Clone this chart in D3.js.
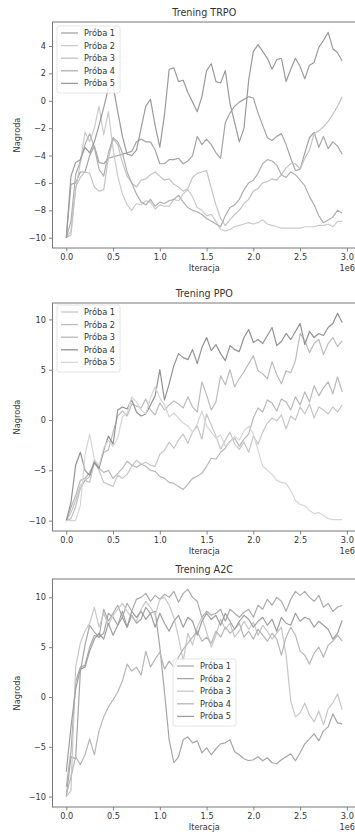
<!DOCTYPE html>
<html>
<head>
<meta charset="utf-8">
<script src="https://cdn.jsdelivr.net/npm/d3@7"></script>
<style>
  body { margin: 0; background: #fff; }
  text { font-family: "DejaVu Sans", sans-serif; fill: #333; }
</style>
</head>
<body>
<div id="chart"></div>
<script>
// values, one point every 0.05e6 iterations
const iterStep = 50000;
const seriesNames = ['Próba 1', 'Próba 2', 'Próba 3', 'Próba 4', 'Próba 5'];
const xTicks = [0, 500000, 1000000, 1500000, 2000000, 2500000, 3000000];

const trpo1 = [-10, -6.1, -6.0, -5.2, -5.2, -4.0, -3.3, -4.5, -4.6, -4.2, -4.1, -4.0, -3.9, -3.8, -3.7, -3.0, -2.8, -3.0, -3.0, -3.6,
  -4.6, -4.6, -4.3, -4.3, -4.2, -4.6, -4.4, -4.0, -2.6, -3.2, -2.8, -3.2, -3.8, -4.2, -1.6, -0.9, -0.4, -0.1, 0.1, 0.3,
  0.2, -0.9, -1.8, -2.7, -2.9, -2.6, -2.4, -3.2, -4.2, -5.1, -5.0, -3.8, -2.7, -2.3, -3.4, -2.6, -3.5, -3.0, -3.3, -3.9];
const trpo2 = [-10, -9.5, -6.5, -4.5, -2.3, -3.0, -2.0, -0.4, -2.5, -0.8, -3.5, -5.5, -6.8, -7.6, -8.0, -7.5, -7.6, -7.3, -7.4, -7.9,
  -7.6, -7.7, -7.7, -7.2, -7.3, -6.8, -6.5, -7.0, -7.8, -8.0, -8.4, -8.3, -8.8, -9.4, -9.5, -9.4, -9.2, -9.1, -9.0, -8.9,
  -9.0, -8.9, -8.7, -9.0, -9.1, -9.2, -9.3, -9.3, -9.3, -9.3, -9.3, -9.2, -9.2, -9.2, -9.1, -9.1, -9.0, -9.2, -8.8, -8.8];
const trpo3 = [-10, -9.8, -6.3, -5.6, -5.2, -5.3, -6.3, -6.6, -6.5, -4.2, -2.8, -3.2, -4.5, -5.5, -6.0, -6.3, -5.8, -5.7, -5.4, -5.2,
  -5.5, -5.8, -5.7, -6.1, -6.3, -6.6, -6.4, -5.6, -5.3, -5.2, -5.1, -6.4, -7.6, -8.6, -9.1, -8.7, -8.3, -8.0, -7.5, -7.2,
  -6.6, -6.4, -6.0, -5.9, -5.7, -5.8, -5.4, -4.9, -4.6, -4.6, -5.0, -4.2, -3.6, -2.4, -2.2, -1.9, -1.5, -1.0, -0.4, 0.3];
const trpo4 = [-10, -8.8, -5.4, -4.4, -3.2, -2.4, -3.4, -5.0, -5.5, -3.8, -2.7, -3.0, -3.8, -5.2, -6.0, -6.8, -7.4, -7.6, -7.2, -7.7,
  -7.4, -7.5, -7.3, -7.2, -6.9, -7.4, -7.8, -8.0, -8.1, -8.3, -8.6, -8.8, -9.0, -9.2, -8.4, -7.8, -7.6, -7.2, -6.5, -6.0,
  -5.8, -5.3, -4.6, -4.3, -4.4, -4.7, -5.4, -5.6, -5.2, -5.4, -5.8, -6.2, -7.0, -7.6, -8.4, -8.9, -8.7, -8.5, -8.0, -8.2];
const trpo5 = [-10, -5.5, -4.5, -4.3, -3.4, -3.8, -3.0, -1.8, -0.5, 0.9, 1.1, -0.8, -2.6, -3.9, -4.0, -3.6, -2.0, -0.4, 0.1, -1.8,
  -3.4, -1.0, 2.3, 2.4, 1.4, 1.5, 0.6, -0.1, -0.8, 0.3, 2.2, 2.7, 1.4, 1.3, 2.2, -0.2, -1.6, -3.0, -2.0, 1.5,
  3.6, 4.1, 3.6, 3.1, 2.3, 3.0, 3.1, 1.4, 2.3, 3.1, 2.5, 1.6, 2.6, 2.8, 3.9, 4.4, 5.0, 3.8, 3.5, 2.9];

const ppo1 = [-10, -9.2, -8.0, -6.5, -6.0, -6.2, -4.2, -5.0, -6.2, -6.4, -6.6, -5.5, -5.8, -5.4, -4.6, -4.0, -4.4, -4.2, -4.5, -4.6,
  -3.4, -3.0, -2.2, -2.8, -2.0, -1.4, -2.3, -1.2, -0.6, -1.9, 0.6, -0.5, -1.6, -2.9, -2.0, -1.2, -2.4, -2.9, -2.2, -3.2,
  -1.6, -2.4, -1.2, -0.3, 0.2, -0.1, 0.5, -0.9, 0.4, 0.0, 1.3, 0.6, 1.6, 0.2, 1.3, 1.0, 0.6, 1.3, 0.8, 1.5];
const ppo2 = [-10, -9.8, -8.6, -6.8, -6.0, -5.6, -4.0, -4.6, -3.2, -3.0, -1.2, 0.4, 0.9, 0.4, 1.6, 1.4, 1.2, 2.1, 1.0, 0.5,
  1.7, 1.0, 1.5, 1.9, 1.6, 1.2, 2.3, 1.3, 0.8, 3.8, 2.5, 1.0, 1.8, 4.4, 3.5, 5.0, 3.3, 4.1, 4.8, 5.6,
  6.4, 4.9, 4.6, 4.1, 5.8, 4.5, 3.6, 4.9, 4.7, 5.9, 8.6, 7.9, 6.7, 7.6, 8.0, 6.5, 7.6, 8.2, 7.3, 7.9];
const ppo3 = [-10, -8.7, -7.5, -6.0, -5.8, -5.2, -4.3, -4.8, -5.2, -5.0, -5.8, -5.3, -4.8, -4.1, -4.5, -4.7, -4.4, -4.6, -5.0, -5.1,
  -5.6, -5.8, -6.2, -6.3, -6.6, -6.9, -6.4, -5.8, -5.6, -5.3, -4.6, -3.8, -3.9, -3.2, -2.8, -2.1, -1.8, -2.6, -1.9, -1.4,
  0.2, 1.2, 0.8, 2.0, 1.7, 0.9, 2.1, 1.8, 1.0, 2.3, 1.5, 2.8, 1.8, 3.4, 2.4, 3.2, 3.8, 2.6, 4.3, 2.8];
const ppo4 = [-10, -8.2, -4.5, -3.2, -5.0, -5.5, -4.2, -4.8, -3.0, -1.6, -2.4, 1.0, 1.3, 1.1, 2.0, 0.8, 0.4, 0.6, 1.5, 2.4,
  5.0, 2.0, 3.6, 5.4, 6.6, 6.2, 6.0, 7.0, 5.6, 7.2, 8.2, 6.9, 7.5, 6.6, 5.9, 7.4, 7.0, 6.8, 8.2, 9.0,
  7.7, 8.0, 7.6, 8.4, 9.2, 7.4, 7.8, 8.6, 8.0, 8.8, 9.6, 7.5, 8.8, 8.2, 8.6, 8.4, 9.2, 9.6, 10.6, 9.7];
const ppo5 = [-10, -10, -10, -8.5, -3.5, -1.4, -3.9, -4.5, -2.8, -2.0, -2.6, -1.8, 0.3, 0.7, 2.3, 1.8, 1.0, 0.6, 2.2, 3.3,
  2.2, 1.5, 0.3, 0.7, 0.2, -0.3, -0.6, -1.2, -0.4, 0.9, -0.6, -1.2, -1.8, -1.5, -2.6, -2.2, -1.6, -2.0, -1.1, -0.6,
  -1.4, -3.0, -4.6, -5.0, -5.4, -6.0, -6.2, -6.3, -7.0, -8.0, -8.4, -8.5, -9.0, -9.3, -9.2, -9.5, -9.8, -9.9, -9.9, -9.9];

const a2c1 = [-9.0, -5.5, 1.5, 3.0, 3.2, 5.0, 6.2, 6.0, 8.8, 7.6, 8.4, 9.2, 8.0, 9.4, 8.6, 9.8, 10.0, 10.4, 9.6, 10.2,
  9.8, 10.3, 10.0, 10.6, 9.5, 10.4, 10.8, 10.0, 9.6, 8.0, 8.6, 8.2, 8.4, 8.8, 7.6, 8.8, 8.4, 8.0, 8.5, 8.8,
  8.0, 9.2, 8.8, 9.8, 9.2, 10.0, 9.6, 8.6, 9.8, 10.6, 10.2, 10.6, 10.0, 9.6, 10.2, 9.0, 9.4, 8.6, 9.0, 9.2];
const a2c2 = [-10, -6.0, -6.2, 2.5, 5.2, 7.2, 6.5, 6.0, 6.4, 8.4, 8.0, 7.2, 8.6, 7.0, 8.2, 7.4, 7.8, 9.0, 8.4, 8.6,
  5.0, 0.5, -4.3, -6.6, -6.0, -4.3, -4.0, -4.6, -4.4, -5.6, -5.1, -5.8, -5.2, -4.7, -4.6, -4.3, -5.5, -5.8, -6.2, -6.4,
  -6.3, -6.0, -6.4, -6.1, -6.6, -6.7, -6.3, -6.0, -5.7, -6.4, -5.6, -4.7, -4.2, -3.7, -4.4, -3.4, -3.0, -1.7, -2.6, -2.7];
const a2c3 = [-10, -9.4, 3.0, 5.4, 6.6, 7.4, 9.0, 7.0, 8.4, 7.2, 8.2, 8.8, 9.4, 8.6, 8.0, 7.6, 8.8, 9.6, 9.0, 8.2,
  9.8, 10.0, 9.2, 8.0, 6.0, 3.6, 6.4, 5.2, 7.0, 8.0, 6.5, 5.0, 6.2, 7.8, 6.8, 7.4, 6.0, 6.6, 7.6, 6.8,
  7.5, 6.2, 7.2, 6.6, 5.8, 6.4, 7.0, 4.2, -0.4, -2.0, -1.6, -0.6, -1.8, -2.5, -1.4, -2.8, -1.2, -0.6, 0.3, -1.3];
const a2c4 = [-9.8, -8.0, -6.0, -6.8, -5.8, -4.2, -5.8, -3.4, -2.0, -1.0, -0.3, 0.5, 1.6, 3.3, 2.6, 3.0, 2.2, 4.6, 3.0, 3.8,
  4.5, 2.8, 3.6, 3.0, 4.0, 4.8, 5.4, 6.0, 6.6, 5.6, 6.0, 5.4, 6.6, 6.0, 7.0, 6.4, 6.8, 7.4, 6.0, 6.6,
  5.8, 6.8, 6.2, 5.6, 6.4, 5.8, 4.2, 6.0, 7.0, 6.2, 4.6, 4.2, 3.3, 4.4, 5.0, 4.0, 5.2, 5.6, 6.2, 5.6];
const a2c5 = [-7.5, -3.0, 0.8, 2.8, 3.0, 4.6, 5.8, 6.4, 5.8, 7.4, 6.2, 7.2, 8.0, 7.0, 8.6, 8.0, 8.6, 7.8, 8.4, 7.0,
  8.4, 7.4, 6.6, 7.6, 8.2, 7.0, 8.0, 7.6, 6.2, 7.6, 8.4, 7.8, 8.2, 7.2, 8.4, 7.6, 6.8, 7.6, 8.2, 7.8,
  7.0, 7.6, 8.0, 7.2, 7.8, 6.6, 8.0, 7.4, 7.2, 8.4, 7.6, 8.0, 7.8, 7.0, 7.6, 7.2, 6.8, 5.8, 6.4, 7.7];

const trpoYTicks = [-10, -8, -6, -4, -2, 0, 2, 4];
const ppoYTicks = [-10, -5, 0, 5, 10];
const a2cYTicks = [-10, -5, 0, 5, 10];

// layout of the three stacked axes
const panels = [
  { title: 'Trening TRPO', series: [trpo1, trpo2, trpo3, trpo4, trpo5], yTicks: trpoYTicks,
    top: 22, bottom: 248, legend: [57, 26],
    colors: ['#a4a4a4', '#cbcbcb', '#c3c3c3', '#afafaf', '#9a9a9a'] },
  { title: 'Trening PPO', series: [ppo1, ppo2, ppo3, ppo4, ppo5], yTicks: ppoYTicks,
    top: 303, bottom: 531, legend: [57, 305],
    colors: ['#c6c6c6', '#bcbcbc', '#b8b8b8', '#929292', '#d6d6d6'] },
  { title: 'Trening A2C', series: [a2c1, a2c2, a2c3, a2c4, a2c5], yTicks: a2cYTicks,
    top: 579, bottom: 807, legend: [173, 659],
    colors: ['#acacac', '#a6a6a6', '#c8c8c8', '#b6b6b6', '#9e9e9e'] },
];

const W = 355, H = 834;
const left = 52.5, right = 356;

const svg = d3.select('#chart').append('svg')
  .attr('width', W).attr('height', H);

panels.forEach((p, pi) => {
  const n = p.series[0].length;
  const xMax = (n - 1) * iterStep;
  const allY = p.series.flat();
  const yMin = d3.min(allY), yMax = d3.max(allY);
  const yPad = (yMax - yMin) * 0.05;

  const x = d3.scaleLinear().domain([-xMax * 0.05, xMax * 1.05]).range([left, right]);
  const y = d3.scaleLinear().domain([yMin - yPad, yMax + yPad]).range([p.bottom, p.top]);

  const g = svg.append('g');

  g.append('clipPath').attr('id', 'clip' + pi)
    .append('rect')
    .attr('x', left).attr('y', p.top)
    .attr('width', right - left).attr('height', p.bottom - p.top);

  const line = d3.line()
    .x((d, i) => x(i * iterStep))
    .y(d => y(d));

  g.append('g').attr('clip-path', `url(#clip${pi})`)
    .selectAll('path')
    .data(p.series)
    .enter()
    .append('path')
    .attr('d', line)
    .attr('fill', 'none')
    .attr('stroke', (d, i) => p.colors[i])
    .attr('stroke-width', 1.2)
    .attr('stroke-linejoin', 'round');

  // axes
  const xAxis = g.append('g')
    .attr('transform', `translate(0,${p.bottom})`)
    .call(d3.axisBottom(x).tickValues(xTicks).tickSize(3.5).tickPadding(3)
      .tickFormat(d => (d / 1e6).toFixed(1)));
  const yAxis = g.append('g')
    .attr('transform', `translate(${left},0)`)
    .call(d3.axisLeft(y).tickValues(p.yTicks).tickSize(3.5).tickPadding(3)
      .tickFormat(d => d < 0 ? '\u2212' + Math.abs(d) : d));

  [xAxis, yAxis].forEach(a => {
    a.select('.domain').remove();
    a.selectAll('line').attr('stroke', '#666').attr('stroke-width', 0.8);
    a.selectAll('text').style('font-size', '8.2px').attr('fill', '#3a3a3a');
  });

  // frame
  g.append('rect')
    .attr('x', left).attr('y', p.top)
    .attr('width', right - left).attr('height', p.bottom - p.top)
    .attr('fill', 'none').attr('stroke', '#777').attr('stroke-width', 1);

  // texts
  g.append('text')
    .attr('x', (left + right) / 2).attr('y', p.top - 6)
    .attr('text-anchor', 'middle').style('font-size', '9.6px')
    .text(p.title);
  g.append('text')
    .attr('x', (left + right) / 2).attr('y', p.bottom + 23)
    .attr('text-anchor', 'middle').style('font-size', '8.2px')
    .text('Iteracja');
  g.append('text')
    .attr('x', 355).attr('y', p.bottom + 23)
    .attr('text-anchor', 'end').style('font-size', '8.2px')
    .text('1e6');
  g.append('text')
    .attr('transform', `translate(20,${(p.top + p.bottom) / 2}) rotate(-90)`)
    .attr('text-anchor', 'middle').style('font-size', '8.2px')
    .text('Nagroda');

  // legend
  const [lx, ly] = p.legend;
  const lg = g.append('g').attr('transform', `translate(${lx},${ly})`);
  lg.append('rect')
    .attr('width', 63).attr('height', 67).attr('rx', 2)
    .attr('fill', 'rgba(255,255,255,0.8)')
    .attr('stroke', '#ddd').attr('stroke-width', 0.8);
  const items = lg.selectAll('.item')
    .data(seriesNames)
    .enter()
    .append('g')
    .attr('class', 'item')
    .attr('transform', (d, i) => `translate(0,${7 + i * 12.6})`);
  items.append('line')
    .attr('x1', 4).attr('x2', 21)
    .attr('stroke', (d, i) => p.colors[i]).attr('stroke-width', 1.3);
  items.append('text')
    .attr('x', 27).attr('y', 3)
    .style('font-size', '8.2px')
    .text(d => d);
});
</script>
</body>
</html>
